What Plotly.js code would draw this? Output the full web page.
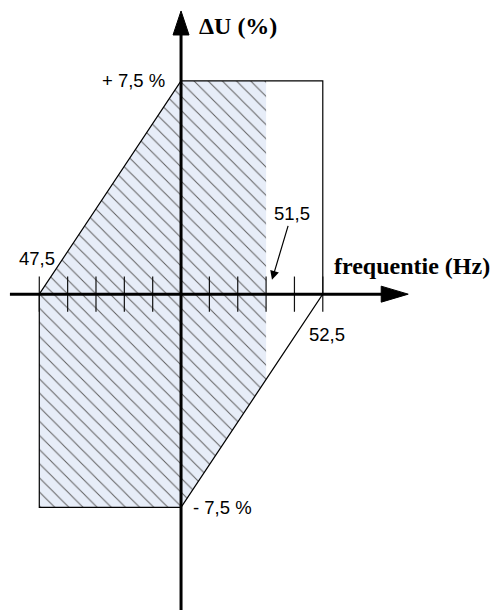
<!DOCTYPE html>
<html>
<head>
<meta charset="utf-8">
<script src="https://cdn.plot.ly/plotly-3.0.1.min.js"></script>
<style>
  html, body { margin: 0; padding: 0; background: #fff; }
  #chart { width: 496px; height: 610px; }
</style>
</head>
<body>
<div id="chart"></div>
<script>
// ---- data ----
// Outer tolerance boundary (frequency in Hz, voltage deviation in %)
const boundaryHz = [47.5, 50, 52.5, 52.5, 50, 47.5, 47.5];
const boundaryDU = [0, 7.5, 7.5, 0, -7.5, -7.5, 0];
// Hatched operating zone
const zoneHz = [47.5, 50, 51.5, 51.5, 50, 47.5, 47.5];
const zoneDU = [0, 7.5, 7.5, -3, -7.5, -7.5, 0];
// Tick marks along the frequency axis (every 0.5 Hz)
const tickHz = [47.5, 48, 48.5, 49, 49.5, 50.5, 51, 51.5, 52, 52.5];
// Text labels
const xAxisTitle = 'frequentie (Hz)';
const yAxisTitle = '\u0394U (%)';
const freqLabels = ['47,5', '51,5', '52,5'];
const duLabels = ['+ 7,5 %', '- 7,5 %'];

// ---- style constants ----
const tickHalf = 0.62;
const sansFont = {family: 'Liberation Sans, Arial, sans-serif', size: 18.5, color: '#000'};
const serifBold = {family: 'Liberation Serif, Times New Roman, serif', size: 24, color: '#000', weight: 'bold'};

const tickX = [], tickY = [];
tickHz.forEach(function (h) { tickX.push(h, h, null); tickY.push(-tickHalf, tickHalf, null); });

const traces = [
  {
    x: zoneHz, y: zoneDU, mode: 'lines', fill: 'toself',
    line: {width: 0, color: 'rgba(0,0,0,0)'},
    fillcolor: '#e7edf8',
    fillpattern: {shape: '\\', bgcolor: '#e7edf8', fgcolor: '#606060', size: 10, solidity: 0.1},
    hoverinfo: 'skip', showlegend: false
  },
  {
    x: boundaryHz, y: boundaryDU, mode: 'lines',
    line: {width: 1.2, color: '#000'},
    hoverinfo: 'skip', showlegend: false
  },
  {
    x: tickX, y: tickY, mode: 'lines',
    line: {width: 1.2, color: '#111'},
    hoverinfo: 'skip', showlegend: false
  }
];

const layout = {
  width: 496, height: 610,
  margin: {l: 0, r: 0, t: 0, b: 0},
  paper_bgcolor: '#fff', plot_bgcolor: '#fff',
  showlegend: false,
  xaxis: {range: [46.807, 55.555], visible: false, fixedrange: true},
  yaxis: {range: [-11.111, 10.348], visible: false, fixedrange: true},
  shapes: [
    // horizontal axis line
    {type: 'line', xref: 'paper', yref: 'y', x0: 0.02, x1: 0.775, y0: 0, y1: 0,
     line: {color: '#000', width: 3}},
    // horizontal arrow head
    {type: 'path', xref: 'paper', yref: 'y', xsizemode: 'pixel', ysizemode: 'pixel',
     xanchor: 0.823, yanchor: 0, path: 'M0,0L-27,8L-27,-8Z',
     fillcolor: '#000', line: {color: '#000', width: 1}},
    // vertical axis line
    {type: 'line', xref: 'x', yref: 'paper', x0: 50, x1: 50, y0: 0, y1: 0.945,
     line: {color: '#000', width: 3}},
    // vertical arrow head
    {type: 'path', xref: 'x', yref: 'paper', xsizemode: 'pixel', ysizemode: 'pixel',
     xanchor: 50, yanchor: 0.982, path: 'M0,0L-8,-24L8,-24Z',
     fillcolor: '#000', line: {color: '#000', width: 1}}
  ],
  annotations: [
    {text: yAxisTitle, x: 50.996, y: 9.434, xref: 'x', yref: 'y', showarrow: false,
     xanchor: 'center', yanchor: 'middle', font: serifBold},
    {text: xAxisTitle, x: 52.662, y: 1.0, xref: 'x', yref: 'y', showarrow: false,
     xanchor: 'left', yanchor: 'middle', font: serifBold},
    {text: duLabels[0], x: 49.752, y: 7.5, xref: 'x', yref: 'y', showarrow: false,
     xanchor: 'right', yanchor: 'middle', font: sansFont},
    {text: duLabels[1], x: 50.175, y: -7.5, xref: 'x', yref: 'y', showarrow: false,
     xanchor: 'left', yanchor: 'middle', font: sansFont},
    {text: freqLabels[0], x: 47.468, y: 1.24, xref: 'x', yref: 'y', showarrow: false,
     xanchor: 'center', yanchor: 'middle', font: sansFont},
    {text: freqLabels[2], x: 52.569, y: -1.43, xref: 'x', yref: 'y', showarrow: false,
     xanchor: 'center', yanchor: 'middle', font: sansFont},
    {text: freqLabels[1], x: 51.604, y: 0.503, xref: 'x', yref: 'y',
     axref: 'x', ayref: 'y', ax: 51.951, ay: 2.823,
     showarrow: true, arrowhead: 2, arrowsize: 1.5, arrowwidth: 1.2, arrowcolor: '#000',
     standoff: 0, font: sansFont}
  ]
};

Plotly.newPlot('chart', traces, layout, {staticPlot: true, displayModeBar: false});
</script>
</body>
</html>
